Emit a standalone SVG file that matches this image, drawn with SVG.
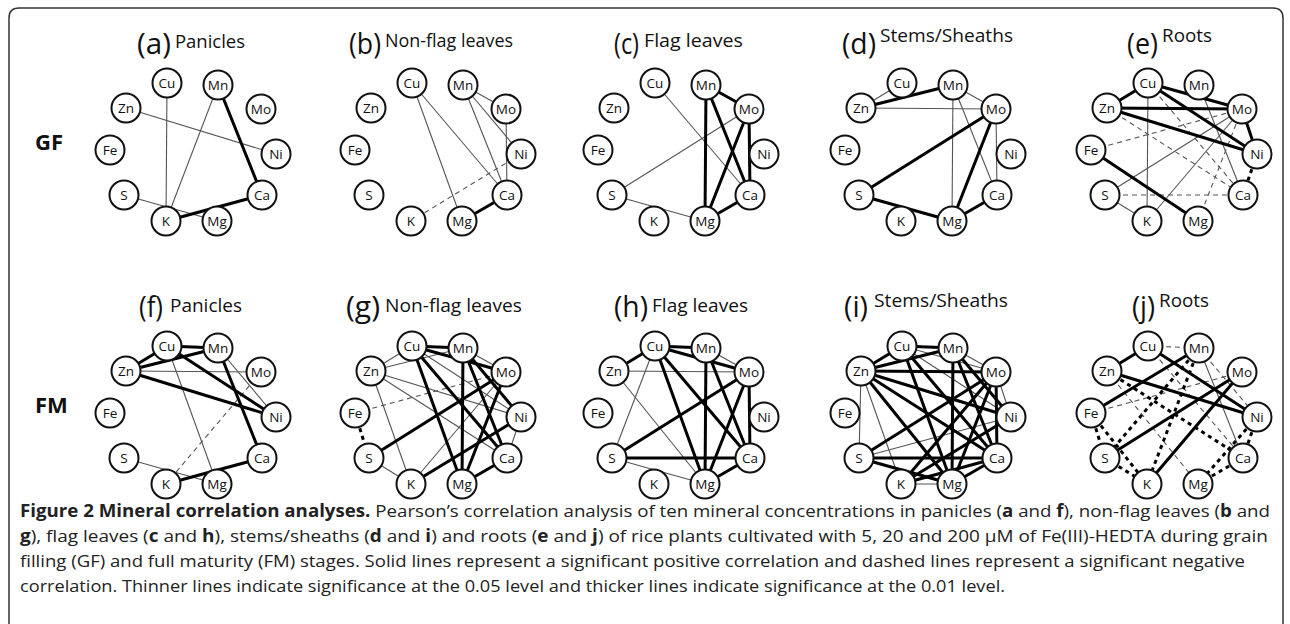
<svg xmlns="http://www.w3.org/2000/svg" width="1290" height="624" viewBox="0 0 1290 624">
<style>
.n circle{fill:#fff;stroke:#111;stroke-width:2}
.n text{font-family:"Open Sans","Liberation Sans",sans-serif;font-size:13.5px;fill:#111;text-anchor:middle}
.t{stroke:#555;stroke-width:1.1;fill:none}
.T{stroke:#000;stroke-width:3;fill:none}
.d{stroke:#555;stroke-width:1.1;stroke-dasharray:5 4;fill:none}
.D{stroke:#000;stroke-width:3;stroke-dasharray:4 4;fill:none}
.big{font-family:"Open Sans","Liberation Sans",sans-serif;font-size:30px;fill:#111}
.sub{font-family:"Open Sans","Liberation Sans",sans-serif;font-size:19px;fill:#111}
.row{font-family:"Open Sans","Liberation Sans",sans-serif;font-size:22px;font-weight:bold;fill:#111}
.cap{font-family:"Open Sans","Liberation Sans",sans-serif;font-size:17px;fill:#222}
.cap .b{font-weight:bold}
</style>
<defs>
<g id="nodes">
<g class="n"><circle cx="167" cy="83" r="14.5"/><text x="167" y="88">Cu</text></g>
<g class="n"><circle cx="218" cy="85" r="14.5"/><text x="218" y="90">Mn</text></g>
<g class="n"><circle cx="261" cy="109" r="14.5"/><text x="261" y="114">Mo</text></g>
<g class="n"><circle cx="276" cy="154" r="14.5"/><text x="276" y="159">Ni</text></g>
<g class="n"><circle cx="262" cy="195" r="14.5"/><text x="262" y="200">Ca</text></g>
<g class="n"><circle cx="217" cy="221" r="14.5"/><text x="217" y="226">Mg</text></g>
<g class="n"><circle cx="166" cy="221" r="14.5"/><text x="166" y="226">K</text></g>
<g class="n"><circle cx="124" cy="195" r="14.5"/><text x="124" y="200">S</text></g>
<g class="n"><circle cx="110" cy="150" r="14.5"/><text x="110" y="155">Fe</text></g>
<g class="n"><circle cx="126" cy="108" r="14.5"/><text x="126" y="113">Zn</text></g>
</g>
</defs>

<path d="M9,624 V18 Q9,8 19,8 H1273 Q1283,8 1283,18 V624" fill="none" stroke="#333" stroke-width="1.5"/>

<text class="row" x="35" y="150">GF</text>
<text class="row" x="35" y="413">FM</text>

<!-- (a) -->
<g id="panel-a">
<text class="big" x="137" y="54" textLength="34" lengthAdjust="spacingAndGlyphs">(a)</text>
<text class="sub" x="175" y="48" textLength="70" lengthAdjust="spacingAndGlyphs">Panicles</text>
<g id="connectors-a">
<line class="t" x1="167" y1="83" x2="166" y2="221"/>
<line class="t" x1="218" y1="85" x2="166" y2="221"/>
<line class="t" x1="126" y1="108" x2="276" y2="154"/>
<line class="t" x1="124" y1="195" x2="217" y2="221"/>
<line class="T" x1="218" y1="85" x2="262" y2="195"/>
<line class="T" x1="262" y1="195" x2="166" y2="221"/>
</g>
<use id="nodes-a" href="#nodes"/>
</g>

<!-- (b) -->
<g id="panel-b" transform="translate(245,0)">
<text class="big" x="104" y="54" textLength="32" lengthAdjust="spacingAndGlyphs">(b)</text>
<text class="sub" x="140" y="47" textLength="128" lengthAdjust="spacingAndGlyphs">Non-flag leaves</text>
<g id="connectors-b">
<line class="t" x1="167" y1="83" x2="217" y2="221"/>
<line class="t" x1="167" y1="83" x2="262" y2="195"/>
<line class="t" x1="218" y1="85" x2="261" y2="109"/>
<line class="t" x1="218" y1="85" x2="262" y2="195"/>
<line class="t" x1="218" y1="85" x2="276" y2="154"/>
<line class="t" x1="261" y1="109" x2="262" y2="195"/>
<line class="d" x1="276" y1="154" x2="166" y2="221"/>
<line class="T" x1="217" y1="221" x2="262" y2="195"/>
</g>
<use id="nodes-b" href="#nodes"/>
</g>

<!-- (c) -->
<g id="panel-c" transform="translate(488,0)">
<text class="big" x="126" y="54" textLength="25" lengthAdjust="spacingAndGlyphs">(c)</text>
<text class="sub" x="156" y="47" textLength="99" lengthAdjust="spacingAndGlyphs">Flag leaves</text>
<g id="connectors-c">
<line class="t" x1="167" y1="83" x2="262" y2="195"/>
<line class="t" x1="124" y1="195" x2="261" y2="109"/>
<line class="t" x1="124" y1="195" x2="217" y2="221"/>
<line class="T" x1="218" y1="85" x2="261" y2="109"/>
<line class="T" x1="218" y1="85" x2="217" y2="221"/>
<line class="T" x1="218" y1="85" x2="262" y2="195"/>
<line class="T" x1="261" y1="109" x2="217" y2="221"/>
<line class="T" x1="261" y1="109" x2="262" y2="195"/>
<line class="T" x1="217" y1="221" x2="262" y2="195"/>
</g>
<use id="nodes-c" href="#nodes"/>
</g>

<!-- (d) -->
<g id="panel-d" transform="translate(735,0)">
<text class="big" x="107" y="54" textLength="34" lengthAdjust="spacingAndGlyphs">(d)</text>
<text class="sub" x="145" y="42" textLength="133" lengthAdjust="spacingAndGlyphs">Stems/Sheaths</text>
<g id="connectors-d">
<line class="t" x1="167" y1="83" x2="126" y2="108"/>
<line class="t" x1="126" y1="108" x2="261" y2="109"/>
<line class="t" x1="218" y1="85" x2="261" y2="109"/>
<line class="t" x1="218" y1="85" x2="217" y2="221"/>
<line class="t" x1="218" y1="85" x2="262" y2="195"/>
<line class="t" x1="261" y1="109" x2="262" y2="195"/>
<line class="T" x1="126" y1="108" x2="218" y2="85"/>
<line class="T" x1="261" y1="109" x2="124" y2="195"/>
<line class="T" x1="261" y1="109" x2="217" y2="221"/>
<line class="T" x1="124" y1="195" x2="217" y2="221"/>
<line class="T" x1="217" y1="221" x2="262" y2="195"/>
</g>
<use id="nodes-d" href="#nodes"/>
</g>

<!-- (e) -->
<g id="panel-e" transform="translate(981,0)">
<text class="big" x="146" y="54" textLength="31" lengthAdjust="spacingAndGlyphs">(e)</text>
<text class="sub" x="181" y="42" textLength="50" lengthAdjust="spacingAndGlyphs">Roots</text>
<g id="connectors-e">
<line class="t" x1="167" y1="83" x2="166" y2="221"/>
<line class="t" x1="218" y1="85" x2="262" y2="195"/>
<line class="t" x1="261" y1="109" x2="124" y2="195"/>
<line class="t" x1="261" y1="109" x2="166" y2="221"/>
<line class="t" x1="124" y1="195" x2="166" y2="221"/>
<line class="d" x1="167" y1="83" x2="262" y2="195"/>
<line class="d" x1="126" y1="108" x2="262" y2="195"/>
<line class="d" x1="110" y1="150" x2="261" y2="109"/>
<line class="d" x1="124" y1="195" x2="262" y2="195"/>
<line class="d" x1="217" y1="221" x2="261" y2="109"/>
<line class="T" x1="167" y1="83" x2="126" y2="108"/>
<line class="T" x1="167" y1="83" x2="261" y2="109"/>
<line class="T" x1="167" y1="83" x2="276" y2="154"/>
<line class="T" x1="126" y1="108" x2="261" y2="109"/>
<line class="T" x1="126" y1="108" x2="276" y2="154"/>
<line class="T" x1="261" y1="109" x2="276" y2="154"/>
<line class="T" x1="110" y1="150" x2="217" y2="221"/>
<line class="D" x1="276" y1="154" x2="262" y2="195"/>
</g>
<use id="nodes-e" href="#nodes"/>
</g>

<!-- (f) -->
<g id="panel-f" transform="translate(0,263)">
<text class="big" x="139" y="54" textLength="24" lengthAdjust="spacingAndGlyphs">(f)</text>
<text class="sub" x="170" y="49" textLength="72" lengthAdjust="spacingAndGlyphs">Panicles</text>
<g id="connectors-f">
<line class="t" x1="126" y1="108" x2="261" y2="109"/>
<line class="t" x1="218" y1="85" x2="276" y2="154"/>
<line class="t" x1="167" y1="83" x2="217" y2="221"/>
<line class="t" x1="124" y1="195" x2="217" y2="221"/>
<line class="d" x1="261" y1="109" x2="166" y2="221"/>
<line class="T" x1="167" y1="83" x2="126" y2="108"/>
<line class="T" x1="167" y1="83" x2="218" y2="85"/>
<line class="T" x1="167" y1="83" x2="276" y2="154"/>
<line class="T" x1="126" y1="108" x2="218" y2="85"/>
<line class="T" x1="126" y1="108" x2="276" y2="154"/>
<line class="T" x1="218" y1="85" x2="262" y2="195"/>
<line class="T" x1="262" y1="195" x2="166" y2="221"/>
</g>
<use id="nodes-f" href="#nodes"/>
</g>

<!-- (g) -->
<g id="panel-g" transform="translate(245,263)">
<text class="big" x="101" y="54" textLength="34" lengthAdjust="spacingAndGlyphs">(g)</text>
<text class="sub" x="140" y="49" textLength="137" lengthAdjust="spacingAndGlyphs">Non-flag leaves</text>
<g id="connectors-g">
<line class="t" x1="167" y1="83" x2="126" y2="108"/>
<line class="t" x1="126" y1="108" x2="218" y2="85"/>
<line class="t" x1="126" y1="108" x2="276" y2="154"/>
<line class="t" x1="126" y1="108" x2="262" y2="195"/>
<line class="t" x1="126" y1="108" x2="166" y2="221"/>
<line class="t" x1="218" y1="85" x2="261" y2="109"/>
<line class="t" x1="167" y1="83" x2="276" y2="154"/>
<line class="t" x1="276" y1="154" x2="262" y2="195"/>
<line class="t" x1="124" y1="195" x2="166" y2="221"/>
<line class="t" x1="261" y1="109" x2="166" y2="221"/>
<line class="d" x1="110" y1="150" x2="261" y2="109"/>
<line class="D" x1="110" y1="150" x2="124" y2="195"/>
<line class="T" x1="167" y1="83" x2="218" y2="85"/>
<line class="T" x1="167" y1="83" x2="261" y2="109"/>
<line class="T" x1="167" y1="83" x2="262" y2="195"/>
<line class="T" x1="167" y1="83" x2="217" y2="221"/>
<line class="T" x1="218" y1="85" x2="217" y2="221"/>
<line class="T" x1="218" y1="85" x2="262" y2="195"/>
<line class="T" x1="218" y1="85" x2="276" y2="154"/>
<line class="T" x1="261" y1="109" x2="124" y2="195"/>
<line class="T" x1="261" y1="109" x2="217" y2="221"/>
<line class="T" x1="276" y1="154" x2="166" y2="221"/>
<line class="T" x1="217" y1="221" x2="262" y2="195"/>
</g>
<use id="nodes-g" href="#nodes"/>
</g>

<!-- (h) -->
<g id="panel-h" transform="translate(488,263)">
<text class="big" x="126" y="54" textLength="34" lengthAdjust="spacingAndGlyphs">(h)</text>
<text class="sub" x="164" y="49" textLength="96" lengthAdjust="spacingAndGlyphs">Flag leaves</text>
<g id="connectors-h">
<line class="t" x1="218" y1="85" x2="261" y2="109"/>
<line class="t" x1="126" y1="108" x2="261" y2="109"/>
<line class="t" x1="167" y1="83" x2="124" y2="195"/>
<line class="t" x1="126" y1="108" x2="217" y2="221"/>
<line class="t" x1="124" y1="195" x2="217" y2="221"/>
<line class="T" x1="167" y1="83" x2="218" y2="85"/>
<line class="T" x1="167" y1="83" x2="126" y2="108"/>
<line class="T" x1="167" y1="83" x2="261" y2="109"/>
<line class="T" x1="167" y1="83" x2="262" y2="195"/>
<line class="T" x1="167" y1="83" x2="217" y2="221"/>
<line class="T" x1="218" y1="85" x2="217" y2="221"/>
<line class="T" x1="218" y1="85" x2="262" y2="195"/>
<line class="T" x1="261" y1="109" x2="124" y2="195"/>
<line class="T" x1="261" y1="109" x2="262" y2="195"/>
<line class="T" x1="261" y1="109" x2="217" y2="221"/>
<line class="T" x1="124" y1="195" x2="262" y2="195"/>
<line class="T" x1="217" y1="221" x2="262" y2="195"/>
</g>
<use id="nodes-h" href="#nodes"/>
</g>

<!-- (i) -->
<g id="panel-i" transform="translate(735,263)">
<text class="big" x="109" y="54" textLength="24" lengthAdjust="spacingAndGlyphs">(i)</text>
<text class="sub" x="139" y="44" textLength="134" lengthAdjust="spacingAndGlyphs">Stems/Sheaths</text>
<g id="connectors-i">
<line class="t" x1="126" y1="108" x2="124" y2="195"/>
<line class="t" x1="126" y1="108" x2="166" y2="221"/>
<line class="t" x1="218" y1="85" x2="261" y2="109"/>
<line class="t" x1="167" y1="83" x2="276" y2="154"/>
<line class="t" x1="261" y1="109" x2="276" y2="154"/>
<line class="t" x1="124" y1="195" x2="276" y2="154"/>
<line class="t" x1="166" y1="221" x2="217" y2="221"/>
<line class="t" x1="167" y1="83" x2="261" y2="109"/>
<line class="T" x1="167" y1="83" x2="218" y2="85"/>
<line class="T" x1="167" y1="83" x2="126" y2="108"/>
<line class="T" x1="126" y1="108" x2="218" y2="85"/>
<line class="T" x1="126" y1="108" x2="261" y2="109"/>
<line class="T" x1="126" y1="108" x2="276" y2="154"/>
<line class="T" x1="126" y1="108" x2="262" y2="195"/>
<line class="T" x1="126" y1="108" x2="217" y2="221"/>
<line class="T" x1="167" y1="83" x2="217" y2="221"/>
<line class="T" x1="167" y1="83" x2="262" y2="195"/>
<line class="T" x1="218" y1="85" x2="217" y2="221"/>
<line class="T" x1="218" y1="85" x2="276" y2="154"/>
<line class="T" x1="218" y1="85" x2="262" y2="195"/>
<line class="T" x1="261" y1="109" x2="124" y2="195"/>
<line class="T" x1="261" y1="109" x2="166" y2="221"/>
<line class="T" x1="261" y1="109" x2="217" y2="221"/>
<line class="T" x1="261" y1="109" x2="262" y2="195"/>
<line class="T" x1="124" y1="195" x2="262" y2="195"/>
<line class="T" x1="124" y1="195" x2="217" y2="221"/>
<line class="T" x1="166" y1="221" x2="262" y2="195"/>
<line class="T" x1="217" y1="221" x2="262" y2="195"/>
<line class="T" x1="276" y1="154" x2="166" y2="221"/>
</g>
<use id="nodes-i" href="#nodes"/>
</g>

<!-- (j) -->
<g id="panel-j" transform="translate(981,263)">
<text class="big" x="151" y="54" textLength="23" lengthAdjust="spacingAndGlyphs">(j)</text>
<text class="sub" x="178" y="44" textLength="50" lengthAdjust="spacingAndGlyphs">Roots</text>
<g id="connectors-j">
<line class="t" x1="218" y1="85" x2="262" y2="195"/>
<line class="d" x1="167" y1="83" x2="218" y2="85"/>
<line class="d" x1="110" y1="150" x2="261" y2="109"/>
<line class="d" x1="218" y1="85" x2="276" y2="154"/>
<line class="d" x1="167" y1="83" x2="262" y2="195"/>
<line class="d" x1="126" y1="108" x2="217" y2="221"/>
<line class="D" x1="110" y1="150" x2="124" y2="195"/>
<line class="D" x1="110" y1="150" x2="166" y2="221"/>
<line class="D" x1="126" y1="108" x2="262" y2="195"/>
<line class="D" x1="218" y1="85" x2="124" y2="195"/>
<line class="D" x1="218" y1="85" x2="166" y2="221"/>
<line class="D" x1="276" y1="154" x2="262" y2="195"/>
<line class="D" x1="124" y1="195" x2="166" y2="221"/>
<line class="D" x1="217" y1="221" x2="262" y2="195"/>
<line class="D" x1="276" y1="154" x2="217" y2="221"/>
<line class="T" x1="167" y1="83" x2="126" y2="108"/>
<line class="T" x1="167" y1="83" x2="276" y2="154"/>
<line class="T" x1="126" y1="108" x2="276" y2="154"/>
<line class="T" x1="218" y1="85" x2="110" y2="150"/>
<line class="T" x1="261" y1="109" x2="124" y2="195"/>
<line class="T" x1="261" y1="109" x2="166" y2="221"/>
</g>
<use id="nodes-j" href="#nodes"/>
</g>

<!-- caption -->
<g id="caption" class="cap">
<text x="20" y="517" textLength="1250" lengthAdjust="spacingAndGlyphs"><tspan class="b">Figure 2 Mineral correlation analyses.</tspan> Pearson’s correlation analysis of ten mineral concentrations in panicles (<tspan class="b">a</tspan> and <tspan class="b">f</tspan>), non-flag leaves (<tspan class="b">b</tspan> and</text>
<text x="20" y="542" textLength="1248" lengthAdjust="spacingAndGlyphs"><tspan class="b">g</tspan>), flag leaves (<tspan class="b">c</tspan> and <tspan class="b">h</tspan>), stems/sheaths (<tspan class="b">d</tspan> and <tspan class="b">i</tspan>) and roots (<tspan class="b">e</tspan> and <tspan class="b">j</tspan>) of rice plants cultivated with 5, 20 and 200 μM of Fe(III)-HEDTA during grain</text>
<text x="20" y="567" textLength="1225" lengthAdjust="spacingAndGlyphs">filling (GF) and full maturity (FM) stages. Solid lines represent a significant positive correlation and dashed lines represent a significant negative</text>
<text x="20" y="592" textLength="985" lengthAdjust="spacingAndGlyphs">correlation. Thinner lines indicate significance at the 0.05 level and thicker lines indicate significance at the 0.01 level.</text>
</g>
</svg>
